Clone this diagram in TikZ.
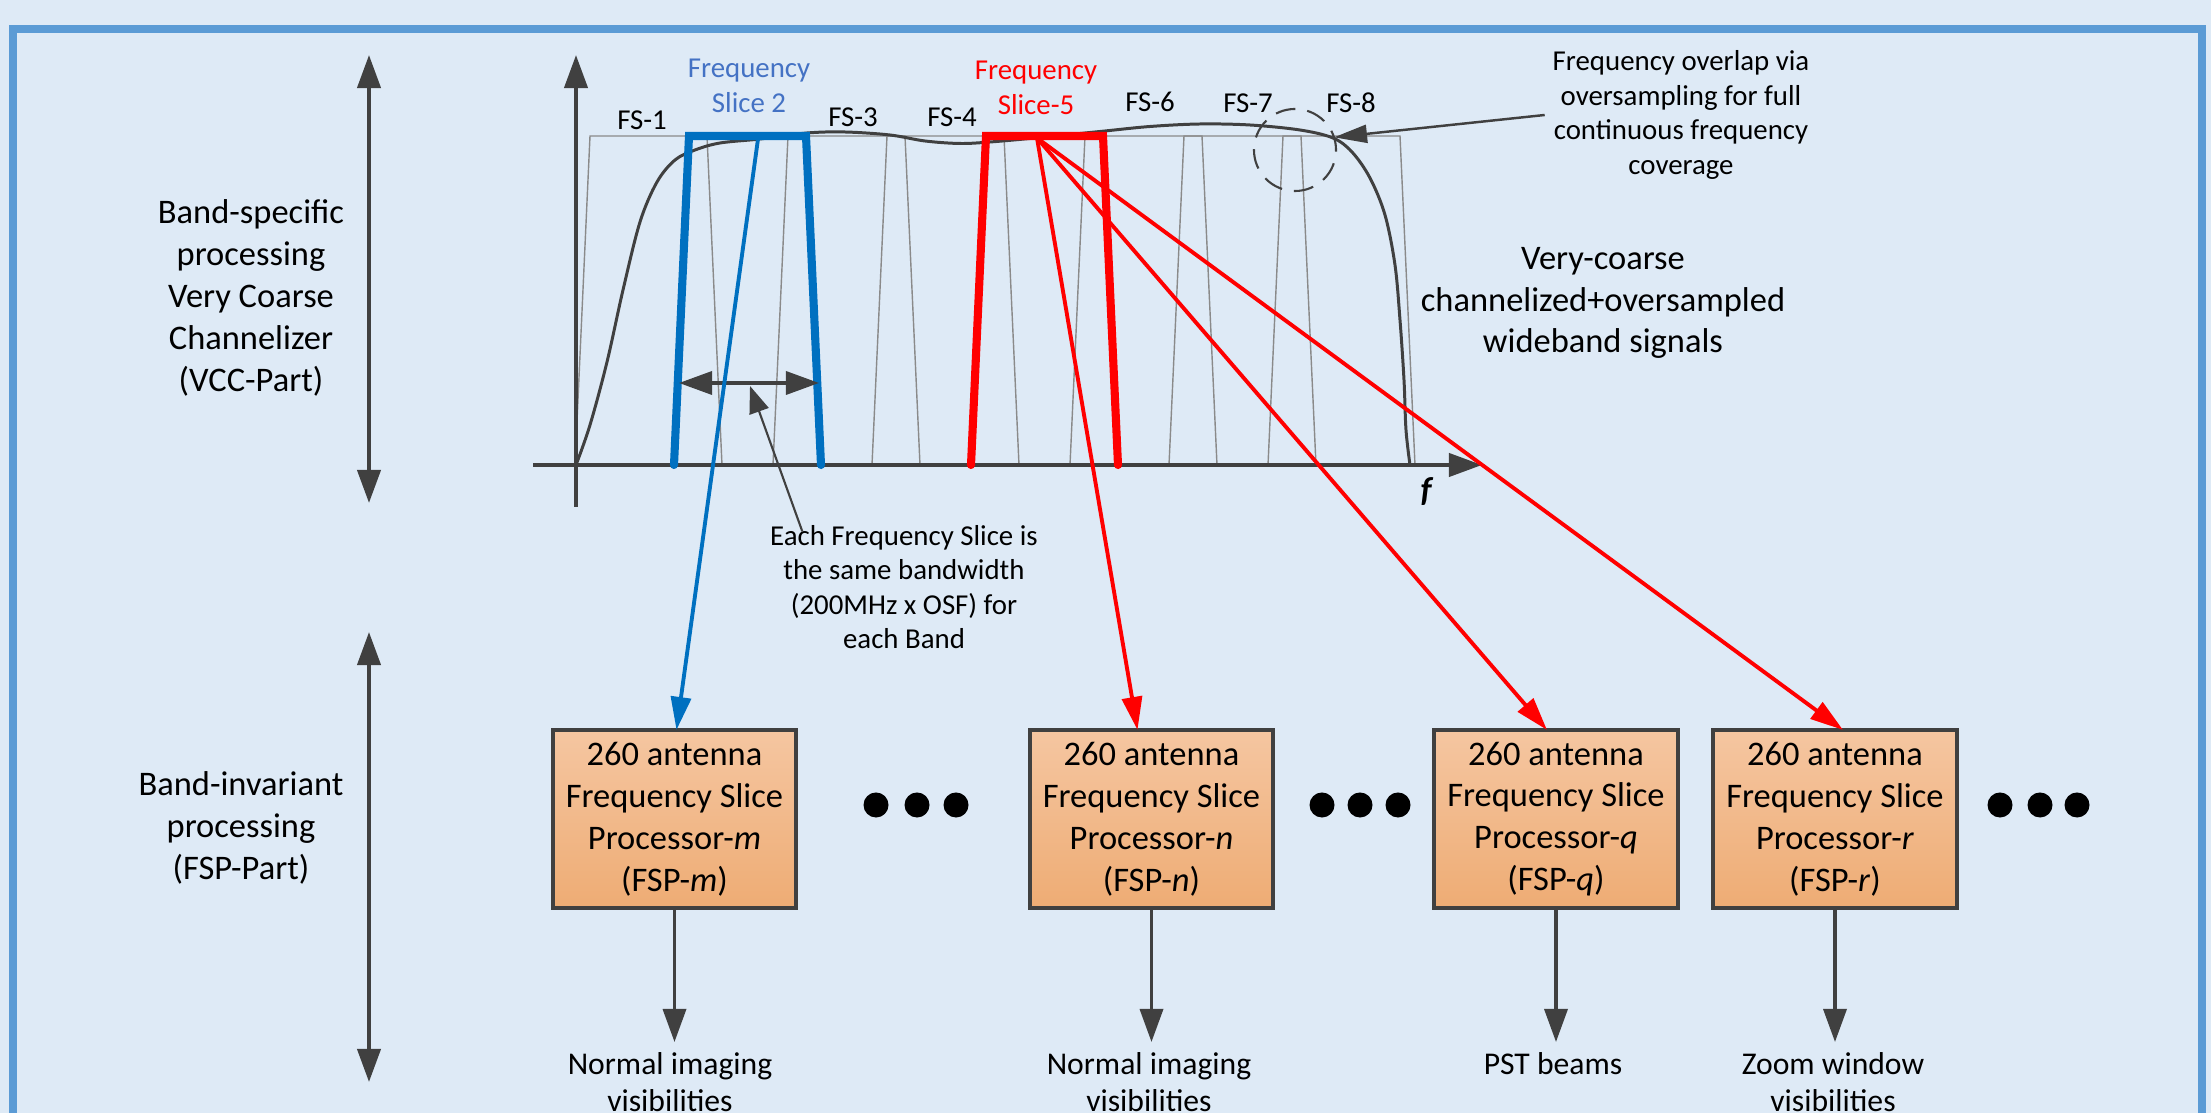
\documentclass[tikz,border=0pt]{standalone}
\usepackage{fontspec}
\setmainfont{Carlito}
\usepackage{tikz}
\usetikzlibrary{arrows.meta}
\usetikzlibrary{calc}
\usepackage{xcolor}
\definecolor{paneblue}{HTML}{DEEAF6}
\definecolor{frameblue}{HTML}{5B9BD5}
\definecolor{inkgray}{HTML}{404040}
\definecolor{slicegray}{HTML}{8A8A8A}
\definecolor{fsblue}{HTML}{0070C0}
\definecolor{fslabel}{HTML}{4472C4}
\definecolor{fspTop}{HTML}{F5C6A1}
\definecolor{fspBot}{HTML}{EEAC74}
\newcommand{\bigtxt}{\fontsize{9.8pt}{11.9pt}\selectfont}
\newcommand{\smalltxt}{\fontsize{8.2pt}{9.8pt}\selectfont}
\newcommand{\outtxt}{\fontsize{9pt}{10.5pt}\selectfont}

\begin{document}
\begin{tikzpicture}[x=0.01cm,y=-0.01cm,>={Triangle[length=0.33cm,width=0.23cm]}]
\tikzstyle{every node}=[inner sep=0pt,outer sep=0pt,align=center]
\tikzstyle{side}=[font=\bigtxt]
\tikzstyle{note}=[font=\smalltxt]
\tikzstyle{fslbl}=[font=\smalltxt,anchor=base]
\tikzstyle{fspbox}=[draw=inkgray,line width=1.15pt,top color=fspTop,bottom color=fspBot,minimum width=2.43cm,minimum height=1.78cm,font=\bigtxt]
\tikzstyle{outlbl}=[font=\outtxt,anchor=north]
\tikzstyle{dotmark}=[circle,fill=black,minimum size=0.25cm]
\tikzstyle{axis}=[inkgray,line width=1.15pt]
\tikzstyle{slice}=[slicegray,line width=0.4pt]
\tikzstyle{fsthick}=[line width=2.3pt,line cap=round]
\tikzstyle{route}=[line width=1.1pt,-{Triangle[length=0.33cm,width=0.2cm]}]

\useasboundingbox (0,0) rectangle (2211,1113);
\clip (0,0) rectangle (2211,1113);
\fill[paneblue] (0,0) rectangle (2211,1113);
\draw[frameblue,line width=2.3pt] (13,29) rectangle (2202,1160);

\node[side] (vcc) at (251,298) {Band-specific\\processing\\Very Coarse\\Channelizer\\(VCC-Part)};
\node[side] (fsp) at (241,828) {Band-invariant\\processing\\(FSP-Part)};
\coordinate (vcctop) at (369,55);
\coordinate (vccbot) at (369,503);
\coordinate (fsptop) at (369,632);
\coordinate (fspbot) at (369,1082);
\draw[axis,<->] (vcctop) -- (vccbot);
\draw[axis,<->] (fsptop) -- (fspbot);

\coordinate (ytop) at (576,55);
\coordinate (ybot) at (576,507);
\coordinate (xleft) at (533,465);
\coordinate (xright) at (1482,465);
\foreach \k in {0,...,7}
  \draw[slice] ({575+99*\k},465) -- ({590+99*\k},136) -- ({707+99*\k},136) -- ({722+99*\k},465);
\draw[inkgray,line width=0.85pt] plot[smooth,tension=0.55] coordinates {(576,465) (590,425) (607,362) (623,290) (640,222) (657,182) (675,160) (695,150) (720,143) (760,139) (807,133) (845,132) (890,135) (925,141) (960,143.5) (990,142) (1035,138) (1100,131.5) (1150,126.5) (1200,124) (1250,125) (1300,130) (1333,138) (1352,152) (1370,178) (1385,215) (1395,265) (1400,320) (1404,380) (1406,430) (1410,465)};
\draw[axis,->] (ybot) -- (ytop);
\draw[axis,->] (xleft) -- (xright);
\node[font=\bigtxt] (freq) at (1427,492) {\textbf{\textit{f}}};
\draw[fsthick,fsblue] (674,465) -- (689,136) -- (806,136) -- (821,465);
\draw[fsthick,red] (971,465) -- (986,136) -- (1103,136) -- (1118,465);

\node[fslbl] (fs1) at (642,130) {FS-1};
\node[note,text=fslabel] (fs2) at (749,86) {Frequency\\Slice 2};
\node[fslbl] (fs3) at (853,127) {FS-3};
\node[fslbl] (fs4) at (952,127) {FS-4};
\node[note,text=red] (fs5) at (1036,88) {Frequency\\Slice-5};
\node[fslbl] (fs6) at (1150,112) {FS-6};
\node[fslbl] (fs7) at (1248,113) {FS-7};
\node[fslbl] (fs8) at (1351,113) {FS-8};

\node[note] (overlap) at (1681,115) {Frequency overlap via\\oversampling for full\\continuous frequency\\coverage};
\node[circle,draw=inkgray,line width=0.6pt,dash pattern=on 0.2cm off 0.12cm,minimum size=0.82cm] (ovlring) at (1295,150) {};
\draw[inkgray,line width=0.7pt,-{Triangle[length=0.33cm,width=0.18cm]}] ($(overlap.west)+(-8,0)$) -- (ovlring.18);
\node[side] (vcsig) at (1603,303) {Very-coarse\\channelized+oversampled\\wideband signals};

\coordinate (bwl) at (679,383);
\coordinate (bwr) at (819,383);
\coordinate (bwmid) at (750,386);
\draw[axis,<->,line width=1pt] (bwl) -- (bwr);
\node[note] (each) at (904,587) {Each Frequency Slice is\\the same bandwidth\\(200MHz x OSF) for\\each Band};
\draw[inkgray,line width=0.6pt,-{Triangle[length=0.27cm,width=0.2cm]}] ($(each.north west)+(32,6)$) -- (bwmid);

\node[fspbox] (fspm) at (674.5,819) {260 antenna\\Frequency Slice\\Processor-\textit{m}\\(FSP-\textit{m})};
\node[fspbox] (fspn) at (1151.5,819) {260 antenna\\Frequency Slice\\Processor-\textit{n}\\(FSP-\textit{n})};
\node[fspbox] (fspq) at (1556,819) {260 antenna\\Frequency Slice\\Processor-\textit{q}\\(FSP-\textit{q})};
\node[fspbox] (fspr) at (1835,819) {260 antenna\\Frequency Slice\\Processor-\textit{r}\\(FSP-\textit{r})};
\foreach \x [count=\i] in {876,917,956,1322,1360,1398,2000,2040,2077}
  \node[dotmark] (dot\i) at (\x,805) {};

\coordinate (fs2tap) at (758,139);
\coordinate (fs5tap) at (1037,138);
\draw[route,fsblue] (fs2tap) -- ($(fspm.north)+(2,0)$);
\draw[route,red] (fs5tap) -- ($(fspn.north)+(-14,0)$);
\draw[route,red] (fs5tap) -- ($(fspq.north)+(-9,0)$);
\draw[route,red] (fs5tap) -- ($(fspr.north)+(8,0)$);

\coordinate (outm) at (674.5,1042);
\coordinate (outn) at (1151.5,1042);
\coordinate (outq) at (1556,1042);
\coordinate (outr) at (1835,1042);
\draw[axis,->,line width=1pt] (fspm.south) -- (outm);
\draw[axis,->,line width=1pt] (fspn.south) -- (outn);
\draw[axis,->,line width=1pt] (fspq.south) -- (outq);
\draw[axis,->,line width=1pt] (fspr.south) -- (outr);
\node[outlbl] (vism) at (670,1053) {Normal imaging\\visibilities};
\node[outlbl] (visn) at (1149,1053) {Normal imaging\\visibilities};
\node[outlbl] (pst) at (1553,1053) {PST beams};
\node[outlbl] (zoomvis) at (1833,1053) {Zoom window\\visibilities};
\end{tikzpicture}
\end{document}
